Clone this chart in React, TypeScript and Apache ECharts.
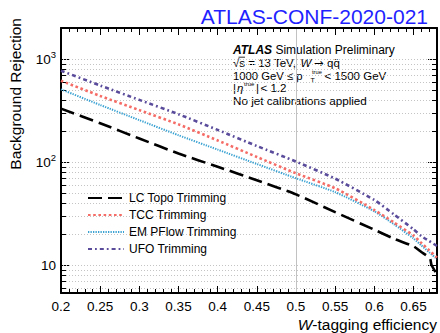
import React, { useEffect, useRef } from 'react';
import * as echarts from 'echarts';

const FONT = '"Liberation Sans", Arial, Helvetica, sans-serif';

// Axis ranges
const X_MIN = 0.2;
const X_MAX = 0.68;
const Y_MIN = 5.35;
const Y_MAX = 2000;

// Background rejection vs W-tagging efficiency
const lcTopoEff = [0.2, 0.25, 0.3, 0.35, 0.4, 0.45, 0.5, 0.55, 0.6, 0.625, 0.65, 0.66, 0.671, 0.673, 0.68];
const lcTopoRej = [330, 238, 169, 121, 90, 66.5, 48.5, 32.6, 22, 18, 15.2, 13.4, 11.6, 10, 8.1];

const tccEff = [0.2, 0.25, 0.3, 0.35, 0.4, 0.45, 0.5, 0.55, 0.6, 0.625, 0.65, 0.66, 0.67, 0.68];
const tccRej = [615, 438, 319, 232, 162, 112, 77.7, 55.6, 34.2, 25.9, 19.3, 16.4, 13.9, 11.8];

const pflowEff = [0.2, 0.25, 0.3, 0.35, 0.4, 0.45, 0.5, 0.55, 0.6, 0.625, 0.65, 0.66, 0.67, 0.68];
const pflowRej = [508, 358, 255, 182, 132, 95.7, 69.5, 51, 33.2, 24.9, 18.1, 15.5, 13.3, 11.4];

const ufoEff = [0.2, 0.25, 0.3, 0.35, 0.4, 0.45, 0.5, 0.55, 0.6, 0.625, 0.65, 0.66, 0.67, 0.68];
const ufoRej = [770, 553, 401, 291, 205, 143, 101, 68.9, 42.8, 31, 22.2, 19.1, 17.1, 15.3];

const seriesNames = ['LC Topo Trimming', 'TCC Trimming', 'EM PFlow Trimming', 'UFO Trimming'];

const pairs = (xs: number[], ys: number[]) => xs.map((x, i) => [x, ys[i]]);

// Frame decorations: log minor grid/ticks, x minor ticks, reference line at 0.5
const frameItems: number[][] = [];
for (let d = 1; d <= 1000; d *= 10) {
  for (let m = 1; m <= 9; m++) {
    const v = m * d;
    if (v > Y_MIN && v < Y_MAX) frameItems.push([X_MIN, v, m === 1 ? 1 : 0]);
  }
}
for (let k = 21; k <= 67; k++) {
  if (k % 5 !== 0) frameItems.push([k / 100, Y_MIN, 2]);
}
frameItems.push([0.5, Y_MIN, 3]);

const yLabel = (value: number) => {
  const e = Math.log10(value);
  const n = Math.round(e);
  if (Math.abs(e - n) > 1e-6) return '';
  if (n === 1) return '{b|10}';
  return '{b|10}{s|' + n + '}';
};

const axisLine = { show: true, onZero: false, lineStyle: { color: '#000', width: 2 } };

const note = (text: string, x: number, y: number, size: number, extra: any = {}) => ({
  type: 'text',
  x,
  y,
  style: {
    text,
    fill: '#000',
    font: `${extra.italic ? 'italic ' : ''}${size}px ${extra.family || FONT}`,
    verticalAlign: 'middle',
    textVerticalAlign: 'middle',
    ...(extra.rich ? { rich: extra.rich } : {}),
  },
});

function buildOption(): any {
  return {
    animation: false,
    backgroundColor: '#fff',
    grid: { left: 61, right: 3, top: 28, bottom: 40, containLabel: false, outerBoundsMode: 'none' },
    legend: {
      show: true,
      orient: 'vertical',
      left: 82,
      top: 187,
      itemWidth: 36,
      itemHeight: 14,
      itemGap: 5,
      selectedMode: false,
      data: seriesNames,
      itemStyle: { opacity: 0 },
      textStyle: { fontSize: 12, color: '#000', fontFamily: FONT },
    },
    xAxis: [
      {
        type: 'value',
        position: 'bottom',
        min: X_MIN,
        max: X_MAX,
        interval: 0.05,
        axisLine,
        axisTick: { show: true, inside: true, length: 7, lineStyle: { color: '#000', width: 1 } },
        axisLabel: {
          color: '#000',
          fontSize: 13.5,
          fontFamily: FONT,
          margin: 6,
          showMaxLabel: false,
          formatter: (v: number) => String(+v.toFixed(2)),
        },
        splitLine: { show: false },
      },
      {
        type: 'value',
        position: 'top',
        min: X_MIN,
        max: X_MAX,
        interval: 0.05,
        axisLine,
        axisTick: { show: true, inside: true, length: 7, lineStyle: { color: '#000', width: 1 } },
        axisLabel: { show: false },
        splitLine: { show: false },
      },
    ],
    yAxis: [
      {
        type: 'log',
        logBase: 10,
        position: 'left',
        min: Y_MIN,
        max: Y_MAX,
        axisLine,
        axisTick: { show: true, inside: true, length: 9, lineStyle: { color: '#000', width: 1 } },
        axisLabel: {
          color: '#000',
          margin: 5,
          formatter: yLabel,
          rich: {
            b: { fontSize: 13.5, fontFamily: FONT, color: '#000', lineHeight: 20 },
            s: { fontSize: 9.5, fontFamily: FONT, color: '#000', lineHeight: 9, verticalAlign: 'top' },
          },
        },
        splitLine: { show: false },
      },
      {
        type: 'log',
        logBase: 10,
        position: 'right',
        min: Y_MIN,
        max: Y_MAX,
        axisLine,
        axisTick: { show: true, inside: true, length: 9, lineStyle: { color: '#000', width: 1 } },
        axisLabel: { show: false },
        splitLine: { show: false },
      },
    ],
    graphic: [
      {
        type: 'text',
        x: 428,
        y: 16,
        style: {
          text: 'ATLAS-CONF-2020-021',
          fill: '#1f1fff',
          font: `21px ${FONT}`,
          align: 'right',
          textAlign: 'right',
          verticalAlign: 'middle',
          textVerticalAlign: 'middle',
        },
      },
      {
        type: 'text',
        x: 15,
        y: 18,
        rotation: Math.PI / 2,
        style: {
          text: 'Background Rejection',
          fill: '#000',
          font: `15.5px ${FONT}`,
          align: 'right',
          textAlign: 'right',
          verticalAlign: 'middle',
          textVerticalAlign: 'middle',
        },
      },
      {
        type: 'text',
        x: 437,
        y: 324.5,
        style: {
          text: '{i|W}-tagging efficiency',
          fill: '#000',
          font: `15.5px ${FONT}`,
          align: 'right',
          textAlign: 'right',
          verticalAlign: 'middle',
          textVerticalAlign: 'middle',
          rich: { i: { fontStyle: 'italic', fontSize: 15.5, fontFamily: FONT } },
        },
      },
      {
        type: 'group',
        children: [
          note('{bi|ATLAS} Simulation Preliminary', 233, 50, 12, {
            rich: { bi: { fontWeight: 'bold', fontStyle: 'italic', fontSize: 12, fontFamily: FONT } },
          }),
          note('√s = 13 TeV,', 233, 62.8, 11.5),
          note('W', 300.5, 62.8, 11.5, { italic: true }),
          note('→', 314, 62.8, 11.5, { family: '"DejaVu Sans", sans-serif' }),
          note('qq̄', 327, 62.8, 11.5),
          { type: 'line', shape: { x1: 238.5, y1: 57.2, x2: 245, y2: 57.2 }, style: { stroke: '#000', lineWidth: 0.8 } },
          note('1000 GeV ≤ p', 233, 75.5, 11.3),
          note('true', 312, 71.5, 5.8),
          note('T', 310.5, 80.5, 7),
          note('< 1500 GeV', 324.5, 75.5, 11.5),
          note('|', 233, 87.5, 11.5),
          note('η', 237, 88, 11.5, { italic: true }),
          note('true', 244, 84, 6),
          note('|', 256, 87.5, 11.5),
          note('< 1.2', 260.5, 87.5, 11.5),
          note('No jet calibrations applied', 233, 100, 11.7),
        ],
      },
    ],
    series: [
      {
        type: 'custom',
        name: 'frame',
        xAxisIndex: 0,
        yAxisIndex: 0,
        z: 1,
        silent: true,
        encode: { x: 0, y: 1 },
        data: frameItems,
        renderItem: (_params: any, api: any) => {
          const kind = api.value(2);
          const children: any[] = [];
          const tick = (x1: number, y1: number, x2: number, y2: number) =>
            children.push({ type: 'line', shape: { x1, y1, x2, y2 }, style: { stroke: '#000', lineWidth: 1 } });
          if (kind === 0 || kind === 1) {
            const v = api.value(1);
            const a = api.coord([X_MIN, v]);
            const b = api.coord([X_MAX, v]);
            const y = Math.round(a[1]) + 0.5;
            children.push({
              type: 'line',
              shape: { x1: a[0] + 2, y1: y, x2: b[0] - 2, y2: y },
              style: { stroke: '#c4c4c4', lineWidth: 1, lineDash: [1, 2] },
            });
            if (kind === 0) {
              tick(a[0], y, a[0] + 5, y);
              tick(b[0] - 5, y, b[0], y);
            }
          } else if (kind === 2) {
            const x = api.value(0);
            const a = api.coord([x, Y_MIN]);
            const b = api.coord([x, Y_MAX]);
            const px = Math.round(a[0]) + 0.5;
            tick(px, a[1] - 4, px, a[1]);
            tick(px, b[1], px, b[1] + 4);
          } else if (kind === 3) {
            const x = api.value(0);
            const a = api.coord([x, Y_MIN]);
            const b = api.coord([x, Y_MAX]);
            const px = Math.round(a[0]) + 0.5;
            children.push({
              type: 'line',
              shape: { x1: px, y1: a[1] - 1, x2: px, y2: b[1] + 1 },
              style: { stroke: '#c2c2c2', lineWidth: 1 },
            });
          }
          return { type: 'group', children };
        },
      },
      {
        type: 'line',
        name: seriesNames[0],
        data: pairs(lcTopoEff, lcTopoRej),
        symbol: 'none',
        smooth: 0.2,
        z: 5,
        lineStyle: { color: '#000', width: 2.6, type: [14, 6], cap: 'butt' },
        itemStyle: { color: '#000' },
      },
      {
        type: 'line',
        name: seriesNames[1],
        data: pairs(tccEff, tccRej),
        symbol: 'none',
        smooth: 0.2,
        z: 4,
        lineStyle: { color: '#f56c66', width: 2.6, type: [2.6, 2.6], cap: 'butt' },
        itemStyle: { color: '#f56c66' },
      },
      {
        type: 'line',
        name: seriesNames[2],
        data: pairs(pflowEff, pflowRej),
        symbol: 'none',
        smooth: 0.2,
        z: 3,
        lineStyle: { color: '#3aa2d2', width: 2, type: [1.3, 1.2], cap: 'butt' },
        itemStyle: { color: '#3aa2d2' },
      },
      {
        type: 'line',
        name: seriesNames[3],
        data: pairs(ufoEff, ufoRej),
        symbol: 'none',
        smooth: 0.2,
        z: 4,
        lineStyle: { color: '#5a4b9b', width: 2.6, type: [4, 3, 1.8, 3], cap: 'butt' },
        itemStyle: { color: '#5a4b9b' },
      },
    ],
  };
}

export default function App() {
  const ref = useRef<HTMLDivElement>(null);
  useEffect(() => {
    document.body.style.margin = '0';
    if (!ref.current) return;
    const chart = echarts.init(ref.current, null, { renderer: 'svg' });
    chart.setOption(buildOption());
    return () => chart.dispose();
  }, []);
  return <div ref={ref} style={{ width: 440, height: 333 }} />;
}
